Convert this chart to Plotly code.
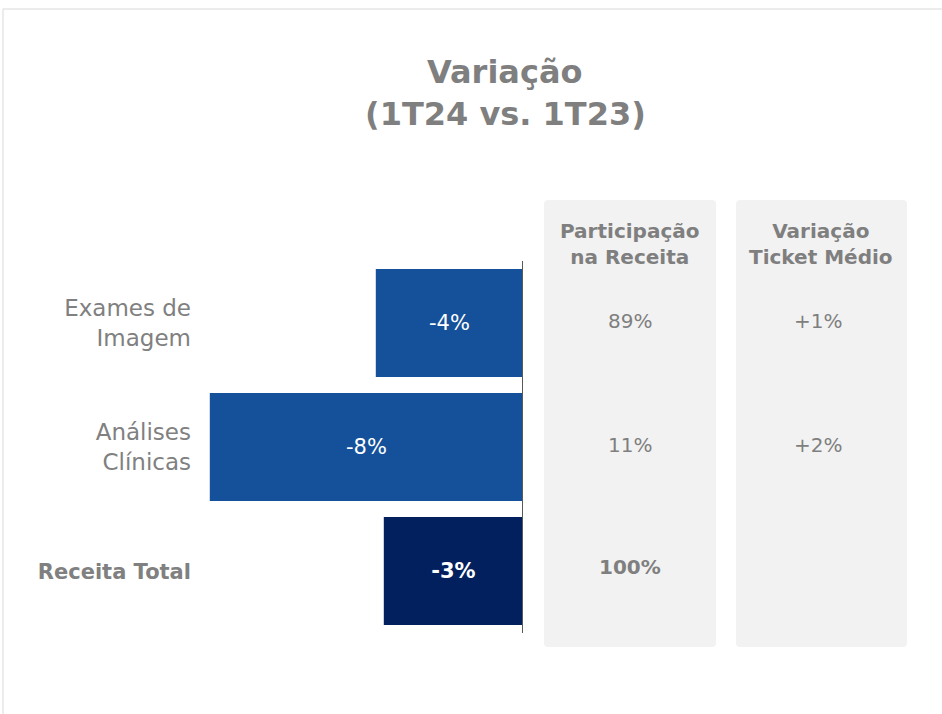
import plotly.graph_objects as go

W, H = 942, 714

# ---- data ----
categories = ["Exames de<br>Imagem", "Análises<br>Clínicas",
              "<span style='font-size:21px'><b>Receita Total</b></span>"]
variacao = [-3.68, -7.83, -3.48]
variacao_labels = ["-4%", "-8%", "<b>-3%</b>"]
participacao_receita = ["89%", "11%", "<b>100%</b>"]
variacao_ticket_medio = ["+1%", "+2%", ""]
bar_colors = ["#15519A", "#15519A", "#021F5E"]

title_lines = ["<b>Variação</b>", "<b>(1T24 vs. 1T23)</b>"]
panel_headers = ["<b>Participação<br>na Receita</b>", "<b>Variação<br>Ticket Médio</b>"]

FONT = "DejaVu Sans"
GRAY = "#7F7F7F"


def px(x):
    return x / W


def py(y):
    return 1 - y / H


ypos = list(range(len(categories)))

fig = go.Figure()
fig.add_trace(go.Bar(
    y=ypos, x=variacao, orientation="h",
    marker=dict(color=bar_colors, line=dict(width=0)),
    width=0.87,
    text=variacao_labels, textposition="inside", insidetextanchor="middle",
    textfont=dict(color="white", size=21, family=FONT),
    hoverinfo="skip",
))

shapes = []
# outer border
shapes.append(dict(type="rect", xref="paper", yref="paper",
                   x0=px(3), x1=px(W + 5), y0=py(H + 5), y1=py(9),
                   line=dict(color="#D9D9D9", width=1), fillcolor="rgba(0,0,0,0)", layer="below"))


def rounded(x0, y0, x1, y1, r=4):
    rx, ry = r / W, r / H
    X0, X1, Y0, Y1 = px(x0), px(x1), py(y1), py(y0)  # Y0 bottom, Y1 top
    return (f"M {X0+rx},{Y1} L {X1-rx},{Y1} Q {X1},{Y1} {X1},{Y1-ry} "
            f"L {X1},{Y0+ry} Q {X1},{Y0} {X1-rx},{Y0} L {X0+rx},{Y0} "
            f"Q {X0},{Y0} {X0},{Y0+ry} L {X0},{Y1-ry} Q {X0},{Y1} {X0+rx},{Y1} Z")


panels = [(544, 200, 716, 647), (736, 200, 907, 647)]
for (a, b, c, d) in panels:
    shapes.append(dict(type="path", xref="paper", yref="paper", path=rounded(a, b, c, d),
                       fillcolor="#F2F2F2", line=dict(width=0), layer="below"))

# zero line
shapes.append(dict(type="line", xref="x", yref="y", x0=0, x1=0, y0=-0.5, y1=2.5,
                   line=dict(color="#595959", width=2)))

annotations = []
for txt, yc in zip(title_lines, [72, 114]):
    annotations.append(dict(text=txt, xref="paper", yref="paper", x=px(505), y=py(yc),
                            xanchor="center", yanchor="middle", showarrow=False,
                            font=dict(size=32, color=GRAY, family=FONT)))

panel_cx = [630, 821]
for txt, cx in zip(panel_headers, panel_cx):
    annotations.append(dict(text=txt, xref="paper", yref="paper", x=px(cx), y=py(244),
                            xanchor="center", yanchor="middle", showarrow=False,
                            font=dict(size=20, color=GRAY, family=FONT)))

for i, (p, t) in enumerate(zip(participacao_receita, variacao_ticket_medio)):
    annotations.append(dict(text=p, xref="paper", yref="y", x=px(panel_cx[0]), y=i,
                            yshift=2 if i < 2 else 4,
                            xanchor="center", yanchor="middle", showarrow=False,
                            font=dict(size=20, color=GRAY, family=FONT)))
    if t:
        annotations.append(dict(text=t, xref="paper", yref="y", x=px(818), y=i,
                                yshift=2,
                                xanchor="center", yanchor="middle", showarrow=False,
                                font=dict(size=20, color=GRAY, family=FONT)))

fig.update_layout(
    width=W, height=H,
    margin=dict(l=0, r=0, t=0, b=0),
    paper_bgcolor="white", plot_bgcolor="rgba(0,0,0,0)",
    showlegend=False,
    xaxis=dict(domain=[px(200), px(523)], range=[-(523 - 200) / 40.0, 0],
               visible=False, fixedrange=True),
    yaxis=dict(domain=[py(633), py(261)], range=[2.5, -0.5],
               tickmode="array", tickvals=ypos, ticktext=categories,
               tickfont=dict(size=23, color="#808080", family=FONT),
               showgrid=False, zeroline=False, showline=False, ticks="",
               ticklabelstandoff=8, fixedrange=True),
    shapes=shapes,
    annotations=annotations,
    bargap=0.13,
)

fig.write_html("out.html", config={"displayModeBar": False, "staticPlot": True},
               post_script="document.body.style.margin='0';document.body.style.overflow='hidden';")
